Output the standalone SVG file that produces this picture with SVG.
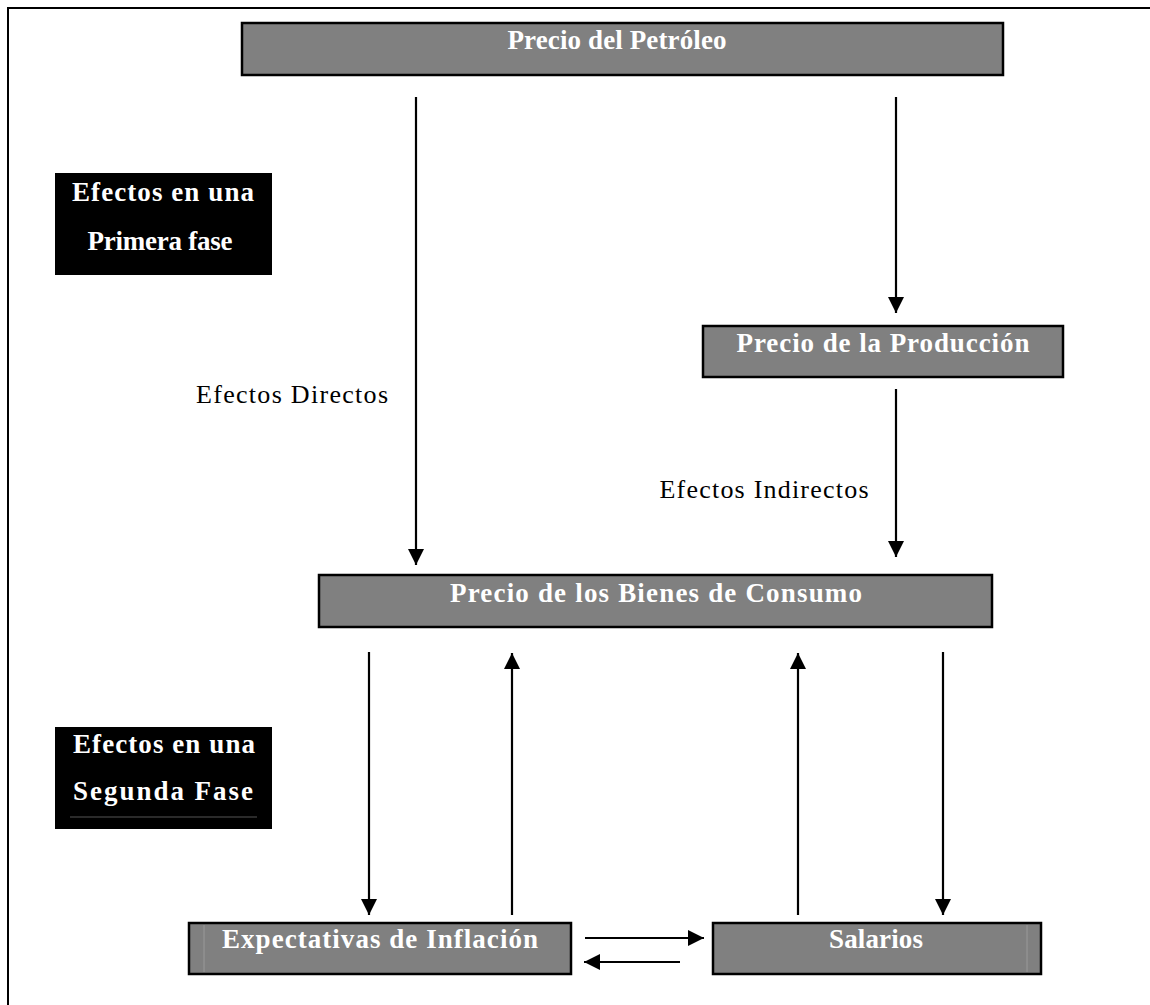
<svg xmlns="http://www.w3.org/2000/svg" width="1150" height="1005" viewBox="0 0 1150 1005">
<style>
.box{fill:#808080;stroke:#000;stroke-width:2.5}
.blk{fill:#000}
.t{font-family:"Liberation Serif","Times New Roman",serif;font-weight:bold;font-size:27px;fill:#fff;text-anchor:middle}
.lbl{font-family:"Liberation Serif","Times New Roman",serif;font-size:26px;fill:#000;text-anchor:middle}
.c{stroke:#000;stroke-width:2.2;fill:none;marker-end:url(#ah)}
</style>
<defs>
<marker id="ah" markerUnits="userSpaceOnUse" markerWidth="17" markerHeight="16" refX="16" refY="8" orient="auto">
<path d="M0,0 L16,8 L0,16 z" fill="#000"/>
</marker>
</defs>
<path d="M8,1005 V8 H1150" fill="none" stroke="#000" stroke-width="2"/>
<g id="n-petroleo">
<rect class="box" x="242" y="23" width="761" height="52"/>
<text class="t" x="617" y="49" textLength="219">Precio del Petróleo</text>
</g>
<g id="n-fase1">
<rect class="blk" x="55" y="173" width="217" height="102"/>
<text class="t" x="163" y="201" textLength="182">Efectos en una</text>
<text class="t" x="160" y="250" textLength="145">Primera fase</text>
</g>
<g id="n-produccion">
<rect class="box" x="703" y="326" width="360" height="51"/>
<text class="t" x="883" y="352" textLength="293">Precio de la Producción</text>
</g>
<g id="n-bienes">
<rect class="box" x="319" y="575" width="673" height="52"/>
<text class="t" x="656" y="602" textLength="412">Precio de los Bienes de Consumo</text>
</g>
<g id="n-fase2">
<rect class="blk" x="55" y="727" width="217" height="102"/>
<line x1="70" y1="817" x2="257" y2="817" stroke="#555" stroke-width="1"/>
<text class="t" x="164" y="753" textLength="182">Efectos en una</text>
<text class="t" x="163" y="800" textLength="180">Segunda Fase</text>
</g>
<g id="n-expectativas">
<rect class="box" x="189" y="923" width="382" height="51"/>
<line x1="204" y1="925" x2="204" y2="972" stroke="#999" stroke-width="1"/>
<text class="t" x="380" y="948" textLength="316">Expectativas de Inflación</text>
</g>
<g id="n-salarios">
<rect class="box" x="713" y="923" width="328" height="51"/>
<line x1="1027" y1="925" x2="1027" y2="972" stroke="#999" stroke-width="1"/>
<text class="t" x="876" y="948" textLength="94">Salarios</text>
</g>
<g id="labels">
<text class="lbl" x="292" y="403" textLength="192">Efectos Directos</text>
<text class="lbl" x="764" y="498" textLength="209">Efectos Indirectos</text>
</g>
<g id="connectors">
<line class="c" x1="416" y1="97" x2="416" y2="565"/>
<line class="c" x1="896" y1="97" x2="896" y2="313"/>
<line class="c" x1="896" y1="389" x2="896" y2="557"/>
<line class="c" x1="369" y1="652" x2="369" y2="915"/>
<line class="c" x1="512" y1="915" x2="512" y2="653"/>
<line class="c" x1="798" y1="915" x2="798" y2="653"/>
<line class="c" x1="943" y1="652" x2="943" y2="915"/>
<line class="c" x1="585" y1="938" x2="704" y2="938"/>
<line class="c" x1="680" y1="962" x2="584" y2="962"/>
</g>
</svg>
